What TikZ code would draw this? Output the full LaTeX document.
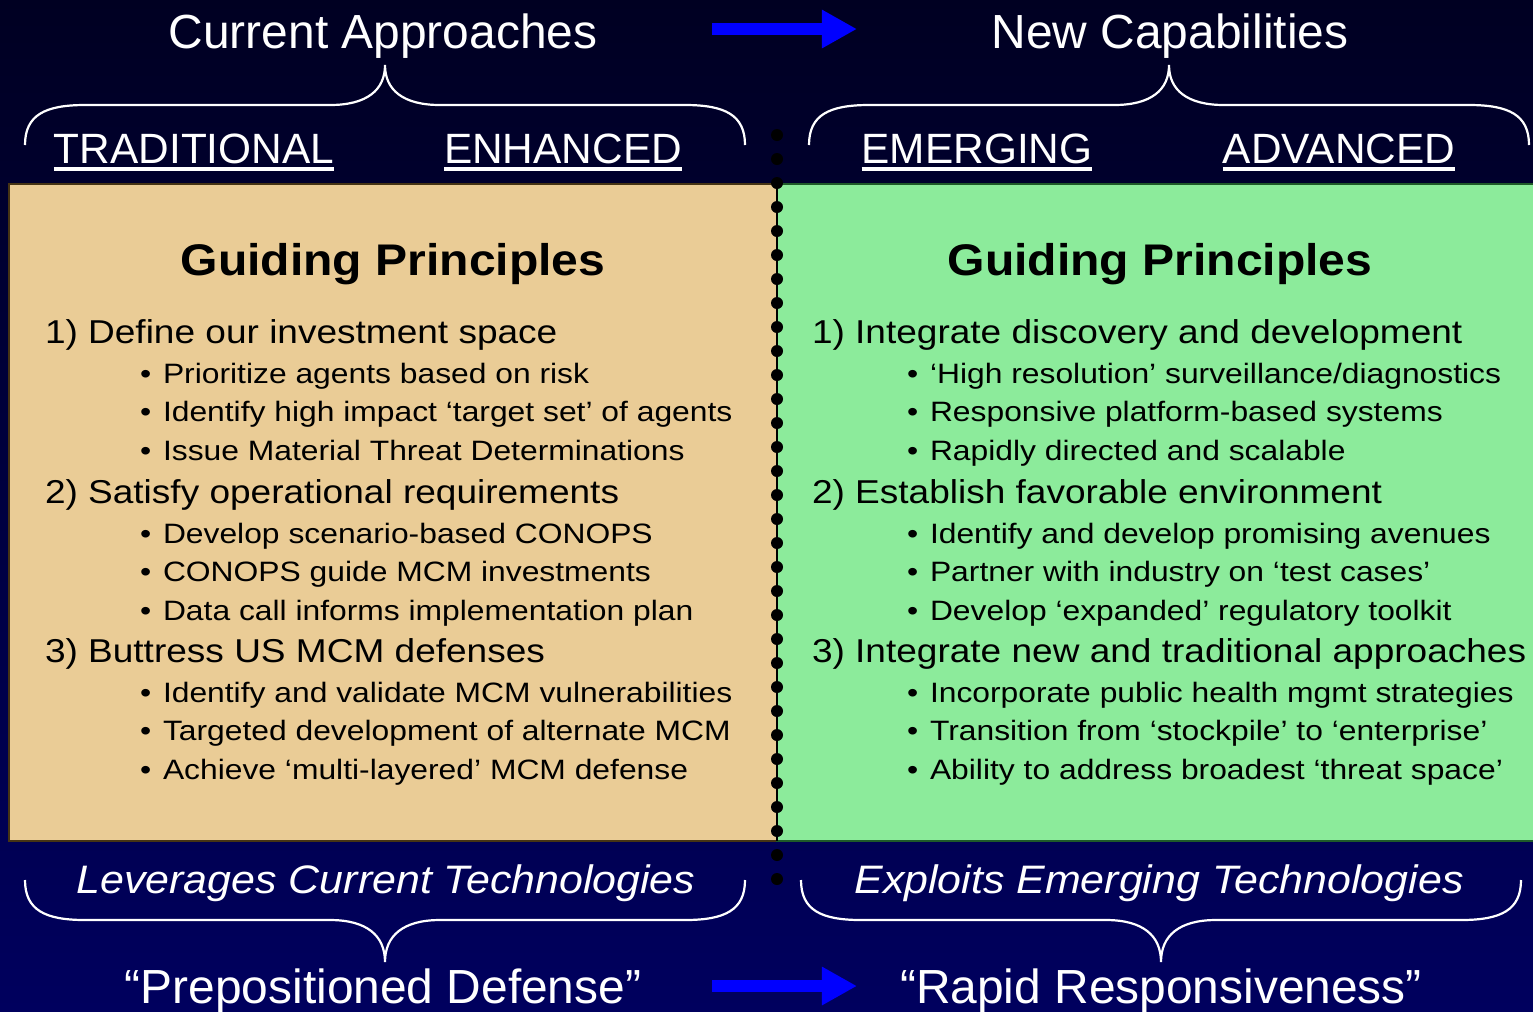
\documentclass[tikz,border=0pt]{standalone}
\usepackage{fontspec}
\setmainfont{Liberation Sans}
\newfontfamily\headfam[FakeStretch=1.12]{Liberation Sans}
\newfontfamily\subfam[FakeStretch=1.135]{Liberation Sans}
\newfontfamily\guidefam[FakeStretch=1.085]{Liberation Sans}
\newfontfamily\techfam[FakeStretch=1.08]{Liberation Sans}
\usetikzlibrary{arrows.meta}
\definecolor{navytop}{RGB}{0,0,34}
\definecolor{navybot}{RGB}{0,0,94}
\definecolor{tanfill}{RGB}{234,204,150}
\definecolor{tanedge}{RGB}{70,52,20}
\definecolor{greenfill}{RGB}{140,235,155}
\definecolor{greenedge}{RGB}{30,90,40}
\def\titlesize{\fontsize{13.62}{16}\selectfont}
\def\levelsize{\fontsize{12.05}{14}\selectfont}
\def\guidesize{\guidefam\fontsize{12.6}{15}\selectfont\bfseries}
\def\headsize{\headfam\fontsize{9.4}{11}\selectfont}
\def\subsize{\subfam\fontsize{7.97}{9.5}\selectfont}
\def\techsize{\techfam\fontsize{11.3}{13}\selectfont\itshape}
\def\bul{\makebox[0.23cm][l]{\textbullet}}
\tikzset{
  every node/.style={inner sep=0pt, outer sep=0pt},
  wtitle/.style={text=white, anchor=base, font=\titlesize},
  wlevel/.style={text=white, anchor=base, font=\levelsize},
  uline/.style={draw=white, line width=0.04cm},
  curly/.style={draw=white, line width=0.022cm},
  guide/.style={anchor=base, font=\guidesize},
  headitem/.style={anchor=base west, font=\headsize},
  subitem/.style={anchor=base west, font=\subsize},
  wtech/.style={text=white, anchor=base, font=\techsize},
  bluearrow/.style={draw=blue, line width=0.12cm, -{Triangle[length=0.35cm,width=0.36cm]}}
}

\begin{document}
\begin{tikzpicture}[x=0.01cm, y=-0.01cm]
  \useasboundingbox (0,0) rectangle (1533,1011);
  \shade[top color=navytop, bottom color=navybot] (0,0) rectangle (1533,1011);

  % boxes
  \filldraw[fill=tanfill, draw=tanedge, line width=0.02cm] (9,184) rectangle (777,841);
  \filldraw[fill=greenfill, draw=greenedge, line width=0.02cm] (777,184) rectangle (1540,841);
  \draw[line width=0.02cm] (777,184) -- (777,841);
  \foreach \k in {0,...,31}
    \fill (777,{135+24*\k}) circle (0.06cm);

  % headers
  \node[wtitle] (cur) at (383,48) {Current Approaches};
  \node[wtitle] (new) at (1170,48) {New Capabilities};
  \coordinate (ta) at (712,29);
  \coordinate (tb) at (857,29);
  \draw[bluearrow] (ta) -- (tb);

  \node[wlevel] (trad) at (194,163) {TRADITIONAL};
  \node[wlevel] (enh) at (563,163) {ENHANCED};
  \node[wlevel] (emer) at (977,163) {EMERGING};
  \node[wlevel] (adv) at (1339,163) {ADVANCED};
  \foreach \n in {trad,enh,emer,adv}
    \draw[uline] ([yshift=-0.06cm]\n.base west) -- ([yshift=-0.06cm]\n.base east);

  % braces
  \foreach \cx/\ye/\yf/\yt in {385/145/105/65, 1169/145/105/65, 385/880/920/962, 1161/880/920/962}
    \draw[curly, shift={(\cx,0)}] (-360,\ye)
      .. controls (-360,{\ye+0.75*(\yf-\ye)}) and (-340,\yf) .. (-300,\yf) -- (-55,\yf)
      .. controls (-18,\yf) and (0,{\yf+0.375*(\yt-\yf)}) .. (0,\yt)
      .. controls (0,{\yf+0.375*(\yt-\yf)}) and (18,\yf) .. (55,\yf) -- (300,\yf)
      .. controls (340,\yf) and (360,{\ye+0.75*(\yf-\ye)}) .. (360,\ye);

  % left box
  \node[guide] (gl) at (393,275) {Guiding Principles};
  \node[headitem] (lh1) at (45,343) {1) Define our investment space};
  \foreach \t [count=\i from 0] in {Prioritize agents based on risk, Identify high impact ‘target set’ of agents, Issue Material Threat Determinations}
    \node[subitem] (la\i) at (140,{383+38.5*\i}) {\bul\t};
  \node[headitem] (lh2) at (45,503) {2) Satisfy operational requirements};
  \foreach \t [count=\i from 0] in {Develop scenario-based CONOPS, CONOPS guide MCM investments, Data call informs implementation plan}
    \node[subitem] (lb\i) at (140,{543+38.5*\i}) {\bul\t};
  \node[headitem] (lh3) at (45,662) {3) Buttress US MCM defenses};
  \foreach \t [count=\i from 0] in {Identify and validate MCM vulnerabilities, Targeted development of alternate MCM, Achieve ‘multi-layered’ MCM defense}
    \node[subitem] (lc\i) at (140,{702+38.5*\i}) {\bul\t};

  % right box
  \node[guide] (gr) at (1160,275) {Guiding Principles};
  \node[headitem] (rh1) at (812,343) {1) Integrate discovery and development};
  \foreach \t [count=\i from 0] in {‘High resolution’ surveillance/diagnostics, Responsive platform-based systems, Rapidly directed and scalable}
    \node[subitem] (ra\i) at (907,{383+38.5*\i}) {\bul\t};
  \node[headitem] (rh2) at (812,503) {2) Establish favorable environment};
  \foreach \t [count=\i from 0] in {Identify and develop promising avenues, Partner with industry on ‘test cases’, Develop ‘expanded’ regulatory toolkit}
    \node[subitem] (rb\i) at (907,{543+38.5*\i}) {\bul\t};
  \node[headitem] (rh3) at (812,662) {3) Integrate new and traditional approaches};
  \foreach \t [count=\i from 0] in {Incorporate public health mgmt strategies, Transition from ‘stockpile’ to ‘enterprise’, Ability to address broadest ‘threat space’}
    \node[subitem] (rc\i) at (907,{702+38.5*\i}) {\bul\t};

  % footers
  \node[wtech] (lev) at (386,893) {Leverages Current Technologies};
  \node[wtech] (expl) at (1159,893) {Exploits Emerging Technologies};
  \node[wtitle] (prep) at (383,1003) {“Prepositioned Defense”};
  \node[wtitle] (rapid) at (1161,1003) {“Rapid Responsiveness”};
  \coordinate (ba) at (712,986);
  \coordinate (bb) at (857,986);
  \draw[bluearrow] (ba) -- (bb);
\end{tikzpicture}
\end{document}
